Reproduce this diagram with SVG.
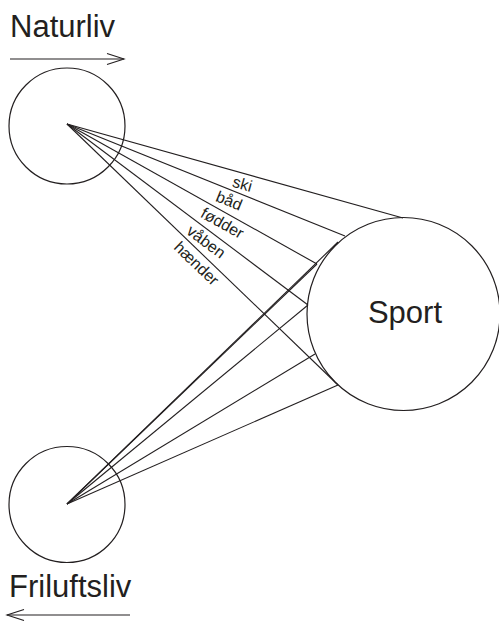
<svg xmlns="http://www.w3.org/2000/svg" width="499" height="621" viewBox="0 0 499 621">
<defs>
<style>
.c{fill:none;stroke:#231f20;stroke-width:1.2}
.l{stroke:#231f20;stroke-width:1.1;fill:none}
.t{font-family:"Liberation Sans",Arial,sans-serif;fill:#231f20}
.big{font-size:31px}
.lab{font-size:16px;text-anchor:middle}
</style>
<marker id="ah" markerUnits="userSpaceOnUse" markerWidth="20" markerHeight="14" viewBox="-18 -7 20 14" refX="0" refY="0" orient="auto">
<path d="M-17,-5.5 L0,0 L-17,5.5" fill="none" stroke="#231f20" stroke-width="1.1"/>
</marker>
</defs>
<rect width="499" height="621" fill="#fff"/>
<g id="naturliv">
<circle class="c" cx="67" cy="126" r="58"/>
<text class="t big" x="10" y="37">Naturliv</text>
<line class="l" x1="10" y1="59" x2="124" y2="59" marker-end="url(#ah)"/>
</g>
<g id="friluftsliv">
<circle class="c" cx="67" cy="504.5" r="58"/>
<text class="t big" x="9" y="597">Friluftsliv</text>
<line class="l" x1="130" y1="615" x2="7" y2="615" marker-end="url(#ah)"/>
</g>
<g id="sport">
<circle class="c" cx="403.5" cy="314" r="96.5"/>
<text class="t" x="405" y="323" font-size="31" text-anchor="middle">Sport</text>
</g>
<g id="connectors">
<line class="l" x1="67" y1="124" x2="403" y2="218"/>
<line class="l" x1="67" y1="124" x2="345" y2="236"/>
<line class="l" x1="67" y1="124" x2="317" y2="264"/>
<line class="l" x1="67" y1="124" x2="308" y2="305"/>
<line class="l" x1="67" y1="124" x2="338" y2="385"/>
<line class="l" x1="67" y1="504" x2="338" y2="242"/>
<line class="l" x1="67" y1="504" x2="317" y2="264"/>
<line class="l" x1="67" y1="504" x2="308" y2="305"/>
<line class="l" x1="67" y1="504" x2="315" y2="354"/>
<line class="l" x1="67" y1="504" x2="338" y2="385"/>
<text class="t lab" transform="translate(245.2,173.8) rotate(15.6)" y="16">ski</text>
<text class="t lab" transform="translate(233,190.9) rotate(21.9)" y="16">båd</text>
<text class="t lab" transform="translate(227.6,213.9) rotate(29.25)" y="16">fødder</text>
<text class="t lab" transform="translate(212.5,233.3) rotate(36.9)" y="16">våben</text>
<text class="t lab" transform="translate(203.9,255.8) rotate(43.9)" y="16">hænder</text>
</g>
</svg>
